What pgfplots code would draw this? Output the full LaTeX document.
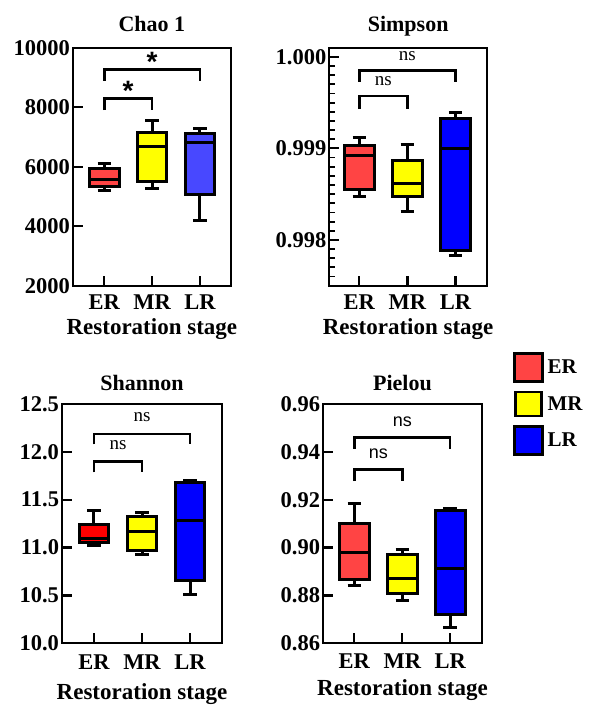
\documentclass[border=0pt]{standalone}
\usepackage{fontspec}
\setmainfont{Liberation Serif}
\setsansfont{Liberation Sans}
\usepackage{pgfplots}
\pgfplotsset{compat=1.18}

\definecolor{erred}{HTML}{FF4444}
\definecolor{erpure}{HTML}{FF0000}
\definecolor{mryel}{HTML}{FFFF00}
\definecolor{lrblue}{HTML}{0000FF}
\definecolor{lrlight}{HTML}{4848FF}

\pgfplotsset{
  panel/.style={
    scale only axis, anchor=south west, clip=false,
    axis line style={line width=2.2pt},
    tick align=inside, xtick pos=left, ytick pos=left,
    major tick length=10pt, minor tick length=6pt,
    major tick style={black, line width=2.2pt},
    minor tick style={black, line width=1.8pt},
    xtick={0,1,2}, xticklabels={ER,MR,LR},
    tick label style={font=\bfseries\fontsize{22.5}{22.5}\selectfont},
    /pgf/number format/assume math mode=true,
    /pgf/number format/1000 sep={},
    xticklabel style={anchor=base, yshift=-24pt},
    yticklabel style={inner xsep=2.5pt},
    scaled y ticks=false,
    title style={font=\bfseries\fontsize{22}{22}\selectfont, anchor=base, yshift=10pt},
    xlabel={Restoration stage},
    xlabel style={font=\bfseries\fontsize{23}{23}\selectfont,
      at={(axis description cs:0.5,0)}, anchor=base, yshift=-49pt},
  },
  whisk/.style={draw=black, line width=3pt, forget plot, mark=none, sharp plot, line join=miter},
  bracket/.style={black, line width=2.5pt, sharp plot, forget plot, mark=none},
}

% box: position, lower whisker, lower quartile, median, upper quartile, upper whisker, colour
\newcommand\boxat[7]{%
  \pgfmathsetmacro\bxl{#1-0.31}\pgfmathsetmacro\bxr{#1+0.31}%
  \pgfmathsetmacro\cxl{#1-0.14}\pgfmathsetmacro\cxr{#1+0.14}%
  \addplot[whisk] coordinates {(#1,#5) (#1,#6)};
  \addplot[whisk] coordinates {(\cxl,#6) (\cxr,#6)};
  \addplot[whisk] coordinates {(#1,#3) (#1,#2)};
  \addplot[whisk] coordinates {(\cxl,#2) (\cxr,#2)};
  \addplot[whisk, fill=#7] coordinates {(#1,#3) (\bxr,#3) (\bxr,#5) (\bxl,#5) (\bxl,#3) (#1,#3)};
  \addplot[whisk] coordinates {(\bxl,#4) (\bxr,#4)};
}

\begin{document}
\begin{tikzpicture}

% Chao 1
\begin{axis}[panel, at={(72.7pt,-285.7pt)}, width=158.3pt, height=238pt,
  title={Chao 1}, xmin=-0.66, xmax=2.65, ymin=2000, ymax=10000,
  ytick={2000,4000,6000,8000,10000}]
\boxat{0}{5210}{5350}{5570}{5950}{6100}{erred}
\boxat{1}{5260}{5500}{6670}{7140}{7546}{mryel}
\boxat{2}{4180}{5050}{6820}{7130}{7290}{lrlight}
\addplot[bracket] coordinates {(0,7905) (0,8297) (1,8297) (1,7905)};
\addplot[bracket] coordinates {(0,8891) (0,9272) (2,9272) (2,8891)};
\node[font=\sffamily\bfseries\fontsize{28}{28}\selectfont, yshift=-7pt] at (axis cs:0.5,8770) {*};
\node[font=\sffamily\bfseries\fontsize{28}{28}\selectfont, yshift=-7pt] at (axis cs:1,9755) {*};
\end{axis}

% Simpson
\begin{axis}[panel, at={(329pt,-285.7pt)}, width=158.3pt, height=238pt,
  title={Simpson}, xmin=-0.63, xmax=2.66, ymin=0.9975, ymax=1.0001,
  ytick={0.998,0.999,1.000},
  minor ytick={0.9976,0.9977,0.9978,0.9979,0.9981,0.9982,0.9983,0.9984,0.9985,0.9986,0.9987,0.9988,0.9989,0.9991,0.9992,0.9993,0.9994,0.9995,0.9996,0.9997,0.9998,0.9999},
  yticklabel style={/pgf/number format/.cd, fixed, fixed zerofill, precision=3},
  legend style={draw=none, fill=none, at={(axis description cs:1.162,-0.279)},
    anchor=north west, inner sep=0pt, row sep=8pt,
    font=\bfseries\fontsize{21}{21}\selectfont,
    nodes={inner xsep=4pt}},
  legend cell align=left]
\boxat{0}{0.99847}{0.99855}{0.99892}{0.99903}{0.99912}{erred}
\boxat{1}{0.99831}{0.99847}{0.99862}{0.99887}{0.99904}{mryel}
\boxat{2}{0.99783}{0.99788}{0.99900}{0.99933}{0.99939}{lrblue}
\addplot[bracket] coordinates {(0,0.99943) (0,0.99957) (1,0.99957) (1,0.99943)};
\addplot[bracket] coordinates {(0,0.99973) (0,0.99985) (2,0.99985) (2,0.99973)};
\node[font=\fontsize{19}{19}\selectfont] at (axis cs:0.5,0.99974) {ns};
\node[font=\fontsize{19}{19}\selectfont] at (axis cs:1,1.00001) {ns};
\addlegendimage{legend image code/.code={\draw[fill=erred, draw=black, line width=2.4pt] (0pt,-14pt) rectangle (28pt,14pt);}}
\addlegendentry{ER}
\addlegendimage{legend image code/.code={\draw[fill=mryel, draw=black, line width=2.4pt] (1pt,-12pt) rectangle (27pt,12pt);}}
\addlegendentry{MR}
\addlegendimage{legend image code/.code={\draw[fill=lrblue, draw=black, line width=2.4pt] (0pt,-14pt) rectangle (28pt,14pt);}}
\addlegendentry{LR}
\end{axis}

% Shannon
\begin{axis}[panel, at={(61.7pt,-643.3pt)}, width=160.6pt, height=239.3pt,
  title={Shannon}, title style={yshift=-2pt}, xmin=-0.67, xmax=2.67, ymin=10, ymax=12.5,
  ytick={10,10.5,11,11.5,12,12.5},
  yticklabel style={/pgf/number format/.cd, fixed, fixed zerofill, precision=1},
  xticklabel style={yshift=-2.5pt}, xlabel style={yshift=-7pt}]
\boxat{0}{11.02}{11.05}{11.095}{11.245}{11.39}{erpure}
\boxat{1}{10.93}{10.965}{11.173}{11.323}{11.368}{mryel}
\boxat{2}{10.505}{10.66}{11.288}{11.678}{11.70}{lrblue}
\addplot[bracket] coordinates {(0,11.786) (0,11.898) (1,11.898) (1,11.786)};
\addplot[bracket] coordinates {(0,12.079) (0,12.187) (2,12.187) (2,12.079)};
\node[font=\fontsize{19}{19}\selectfont] at (axis cs:0.5,12.072) {ns};
\node[font=\fontsize{19}{19}\selectfont] at (axis cs:1,12.367) {ns};
\end{axis}

% Pielou
\begin{axis}[panel, at={(322.7pt,-643.3pt)}, width=159.6pt, height=239.3pt,
  title={Pielou}, title style={yshift=-2pt}, xmin=-0.66, xmax=2.67, ymin=0.86, ymax=0.96,
  ytick={0.86,0.88,0.90,0.92,0.94,0.96},
  yticklabel style={/pgf/number format/.cd, fixed, fixed zerofill, precision=2},
  xticklabel style={yshift=-1pt}, xlabel style={yshift=-3pt}]
\boxat{0}{0.8841}{0.8865}{0.8980}{0.9099}{0.9185}{erred}
\boxat{1}{0.8778}{0.8809}{0.8870}{0.8973}{0.8990}{mryel}
\boxat{2}{0.8665}{0.8721}{0.8913}{0.9156}{0.9165}{lrblue}
\addplot[bracket] coordinates {(0,0.9278) (0,0.9327) (1,0.9327) (1,0.9278)};
\addplot[bracket] coordinates {(0,0.9413) (0,0.9461) (2,0.9461) (2,0.9413)};
\node[font=\sffamily\fontsize{18}{18}\selectfont] at (axis cs:0.5,0.9391) {ns};
\node[font=\sffamily\fontsize{18}{18}\selectfont] at (axis cs:1,0.9526) {ns};
\end{axis}

\pgfresetboundingbox
\useasboundingbox (0,0) rectangle (590pt,-706pt);
\end{tikzpicture}
\end{document}
